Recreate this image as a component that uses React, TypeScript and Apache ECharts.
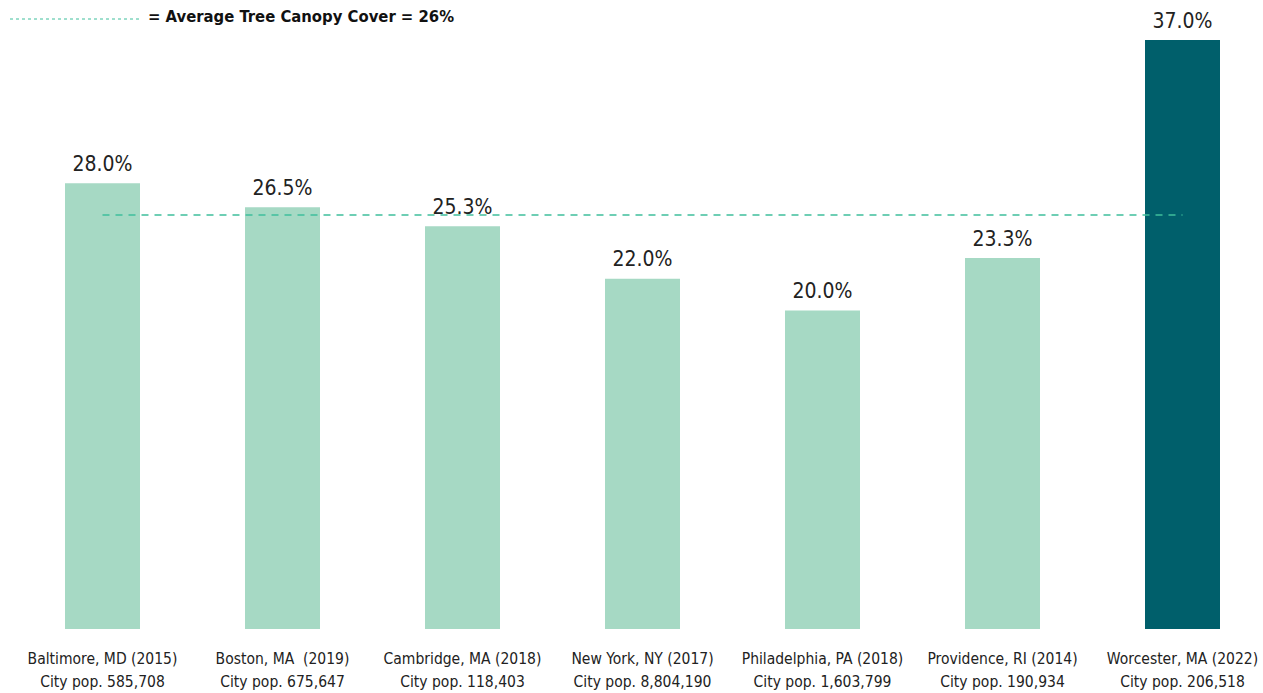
import React, { useEffect, useRef } from "react";
import * as echarts from "echarts";

const cities = [
  "Baltimore, MD (2015)",
  "Boston, MA  (2019)",
  "Cambridge, MA (2018)",
  "New York, NY (2017)",
  "Philadelphia, PA (2018)",
  "Providence, RI (2014)",
  "Worcester, MA (2022)",
];
const populations = [
  "585,708",
  "675,647",
  "118,403",
  "8,804,190",
  "1,603,799",
  "190,934",
  "206,518",
];
const canopyCover = [28.0, 26.5, 25.3, 22.0, 20.0, 23.3, 37.0];
const averageCover = 26;
const highlightCity = "Worcester, MA (2022)";

const FONT = "'Liberation Sans Narrow', 'DejaVu Sans Condensed', 'Roboto Condensed', sans-serif";
const LIGHT = "#a6d9c4";
const DARK = "#005f6b";
const DASH = "#3fbf9c";

export default function App() {
  const ref = useRef<HTMLDivElement>(null);
  useEffect(() => {
    if (!ref.current) return;
    const chart = echarts.init(ref.current, null, { renderer: "svg" });
    const categories = cities.map((c, i) => c + "\nCity pop. " + populations[i]);
    chart.setOption({
      animation: false,
      grid: { left: 12.5, right: 7.5, top: 40, bottom: 63 },
      xAxis: {
        type: "category",
        data: categories,
        axisLine: { show: false },
        axisTick: { show: false },
        axisLabel: {
          interval: 0,
          margin: 18,
          fontFamily: FONT,
          fontSize: 15.5,
          lineHeight: 23,
          color: "#222",
        },
      },
      yAxis: {
        type: "value",
        min: 0,
        max: 37,
        show: false,
        splitLine: { show: false },
      },
      graphic: [
        {
          type: "line",
          shape: { x1: 10, y1: 19, x2: 140, y2: 19 },
          style: { stroke: DASH, lineWidth: 1, lineDash: [3, 3] },
        },
        {
          type: "text",
          left: 148,
          top: 8,
          style: {
            text: "= Average Tree Canopy Cover = " + averageCover + "%",
            font: "bold 16.5px " + FONT,
            fill: "#111",
          },
        },
      ],
      series: [
        {
          type: "bar",
          barWidth: 75,
          data: canopyCover.map((v, i) => ({
            value: v,
            itemStyle: { color: cities[i] === highlightCity ? DARK : LIGHT },
          })),
          label: {
            show: true,
            position: "top",
            distance: 9,
            fontFamily: FONT,
            fontSize: 21,
            color: "#222",
            formatter: (p: any) => Number(p.value).toFixed(1) + "%",
          },
          markLine: {
            symbol: "none",
            silent: true,
            label: { show: false },
            lineStyle: { color: DASH, width: 1.5, type: [7, 6] },
            data: [
              [
                { xAxis: 0, yAxis: averageCover },
                { xAxis: cities.length - 1, yAxis: averageCover },
              ],
            ],
          },
        },
      ],
    });
    return () => chart.dispose();
  }, []);
  return (
    <div style={{ position: "absolute", left: 0, top: 0, width: 1263, height: 693, overflow: "hidden", background: "#fff" }}>
      <div ref={ref} style={{ width: 1280, height: 693 }} />
    </div>
  );
}
